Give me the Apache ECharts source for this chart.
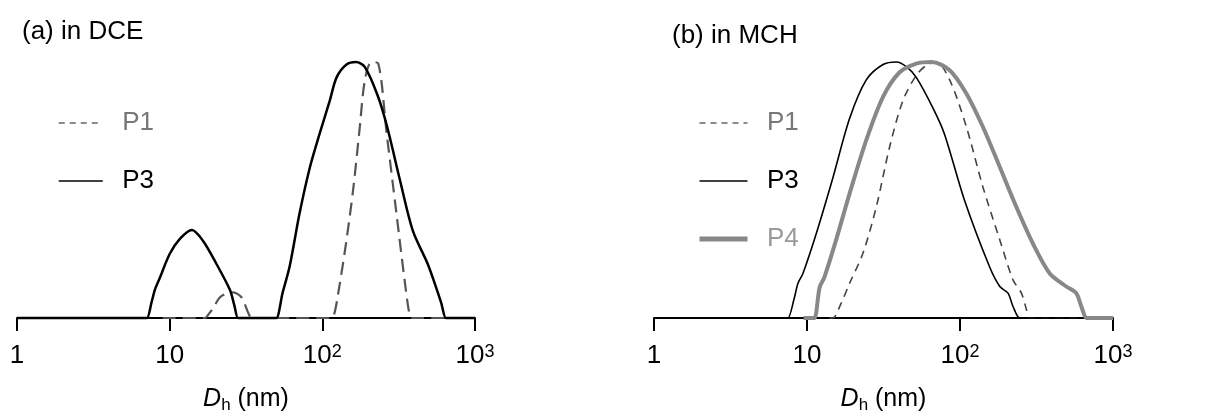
<!DOCTYPE html>
<html>
<head>
<meta charset="utf-8">
<title>DLS size distributions</title>
<script src="https://cdn.jsdelivr.net/npm/echarts@6/dist/echarts.min.js"></script>
<style>
  html, body { margin: 0; padding: 0; background: #ffffff; }
  #chart { width: 1232px; height: 414px; }
</style>
</head>
<body>
<div id="chart"></div>
<script>
// Hydrodynamic diameter D_h (nm) and normalised intensity (%) for each sample.

// (a) in DCE
const dceP1D = [9, 17, 18, 19.3, 21.3, 23.5, 26.1, 29.6, 32.7, 34.5, 36, 60, 110, 118, 127, 144, 160, 176, 190, 210, 232, 264, 307, 348, 375, 390, 1000];
const dceP1I = [0, 0, 1.5, 4, 8, 9.5, 10, 8, 2, 0, 0, 0, 0, 0.5, 9.6, 30.5, 51.3, 74.7, 93, 100, 99.5, 72, 40, 13.5, 0.5, 0, 0];

const dceP3D = [1, 6.8, 7.1, 7.6, 8.0, 8.6, 10, 11.7, 14, 16.6, 20.3, 24.8, 26.5, 28, 29, 48, 50, 55, 61, 71, 83, 96, 112, 124, 144, 166, 190, 230, 265, 322, 392, 491, 563, 600, 645, 670, 1000];
const dceP3I = [0, 0, 0, 6, 11, 15.5, 25, 31, 34.4, 30, 21, 11, 5, 0, 0, 0, 0, 10, 20, 41, 59, 72, 85, 94, 99, 100, 98, 87, 75, 54, 34, 21, 11, 6, 0, 0, 0];

// (b) in MCH
const mchP1D = [14, 14.8, 16.5, 19.0, 23.2, 28.4, 34.7, 42.4, 51.8, 60.3, 70, 85.6, 110, 141, 182, 222, 252, 272, 280, 290, 1000];
const mchP1I = [0, 0, 5, 13.6, 25.3, 43.5, 66.9, 85, 94.8, 98.7, 100, 93, 74.7, 51.3, 30.5, 14.9, 9.7, 3.2, 0, 0, 0];

const mchP3D = [1, 7.2, 7.5, 8.2, 8.73, 9.42, 11.5, 14.8, 19.0, 24.4, 31.4, 38.4, 45, 51.8, 66.6, 79, 107, 156, 182, 206, 222, 245, 255, 1000];
const mchP3I = [0, 0, 0, 7, 13.6, 17.5, 33, 55, 78, 93, 99, 100, 98, 94, 82, 72, 46, 20, 12.3, 9.7, 4.5, 0, 0, 0];

const mchP4D = [9.5, 10.8, 11.2, 12.1, 13.0, 15.5, 19.0, 24.4, 31.4, 40.3, 51.8, 65, 85.6, 110, 141, 182, 233, 300, 385, 495, 575, 621, 670, 700, 1000];
const mchP4I = [0, 0, 0, 12, 16, 30.5, 48.7, 69.5, 86.4, 96, 99.4, 100, 96.8, 87.7, 74.7, 59, 43.5, 29, 17.5, 12.3, 9.7, 4.5, 0, 0, 0];

// Decade tick labels on the D_h axis
const tickLabels = ['1', '10', '10{s|2}', '10{s|3}'];
const panelTitles = ['(a) in DCE', '(b) in MCH'];

const FONT = '"Liberation Sans", Arial, Helvetica, sans-serif';
const zip = (xs, ys) => xs.map((x, i) => [x, ys[i]]);

const chart = echarts.init(document.getElementById('chart'), null, { renderer: 'canvas' });

function xAxisFor(gridIndex) {
  return {
    type: 'log',
    logBase: 10,
    gridIndex: gridIndex,
    min: 1,
    max: 1000,
    splitLine: { show: false },
    minorTick: { show: false },
    axisLine: { show: true, onZero: false, lineStyle: { color: '#000', width: 2 } },
    axisTick: { show: true, inside: false, length: 13, lineStyle: { color: '#000', width: 2 } },
    axisLabel: {
      margin: 25,
      color: '#000',
      fontFamily: FONT,
      fontSize: 26,
      formatter: function (v) {
        const k = Math.round(Math.log10(v));
        return tickLabels[k] !== undefined ? tickLabels[k] : '';
      },
      rich: {
        s: { fontSize: 18, fontFamily: FONT, color: '#000', verticalAlign: 'top', lineHeight: 16 }
      }
    },
    name: '{i|D}{s|h} (nm)',
    nameLocation: 'middle',
    nameGap: 66,
    nameTextStyle: {
      color: '#000',
      fontFamily: FONT,
      fontSize: 25,
      rich: {
        i: { fontStyle: 'italic', fontSize: 25, fontFamily: FONT, color: '#000' },
        s: { fontSize: 17, fontFamily: FONT, color: '#000', verticalAlign: 'bottom', lineHeight: 30 }
      }
    }
  };
}

function yAxisFor(gridIndex) {
  return {
    type: 'value',
    gridIndex: gridIndex,
    min: 0,
    max: 100,
    show: false
  };
}

function lineSeries(name, data, idx, style) {
  return {
    name: name,
    type: 'line',
    xAxisIndex: idx,
    yAxisIndex: idx,
    data: data,
    smooth: 0.3,
    showSymbol: false,
    symbol: 'none',
    clip: false,
    animation: false,
    itemStyle: { color: style.color },
    lineStyle: style
  };
}

const styleP1a = { color: '#555', width: 2.2, type: [13, 7] };
const styleP3a = { color: '#000', width: 2.5, type: 'solid' };
const styleP1b = { color: '#444', width: 1.6, type: [8, 6] };
const styleP3b = { color: '#000', width: 1.6, type: 'solid' };
const styleP4b = { color: '#888', width: 4, type: 'solid' };

function legendFor(left, width, names) {
  const hidden = { color: 'rgba(0,0,0,0)', borderWidth: 0, opacity: 0 };
  const entries = {
    P1: { name: 'P1', itemStyle: hidden, lineStyle: { color: '#666', width: 1.5, type: [6, 5] }, textStyle: { color: '#777' } },
    P3: { name: 'P3', itemStyle: hidden, lineStyle: { color: '#000', width: 1.5, type: 'solid' }, textStyle: { color: '#000' } },
    P4: { name: 'P4', itemStyle: hidden, lineStyle: { color: '#888', width: 5, type: 'solid' }, textStyle: { color: '#999' } }
  };
  return {
    orient: 'vertical',
    left: left,
    top: 110,
    padding: 0,
    itemWidth: width,
    itemHeight: 14,
    itemGap: 32,
    selectedMode: false,
    formatter: function (n) { return '  ' + n; },
    textStyle: { fontFamily: FONT, fontSize: 26 },
    data: names.map(n => entries[n])
  };
}

chart.setOption({
  backgroundColor: '#ffffff',
  animation: false,
  title: [
    { text: panelTitles[0], left: 17, top: 14, textStyle: { fontFamily: FONT, fontSize: 26, fontWeight: 'normal', color: '#000' } },
    { text: panelTitles[1], left: 667, top: 18, textStyle: { fontFamily: FONT, fontSize: 26, fontWeight: 'normal', color: '#000' } }
  ],
  grid: [
    { left: 17, top: 62, width: 458, height: 256, outerBoundsMode: 'none' },
    { left: 654, top: 62, width: 459, height: 256, outerBoundsMode: 'none' }
  ],
  xAxis: [xAxisFor(0), xAxisFor(1)],
  yAxis: [yAxisFor(0), yAxisFor(1)],
  legend: [
    legendFor(58, 44, ['P1', 'P3']),
    legendFor(697, 48, ['P1', 'P3', 'P4'])
  ],
  series: [
    lineSeries('P1', zip(dceP1D, dceP1I), 0, styleP1a),
    lineSeries('P3', zip(dceP3D, dceP3I), 0, styleP3a),
    lineSeries('P1', zip(mchP1D, mchP1I), 1, styleP1b),
    lineSeries('P3', zip(mchP3D, mchP3I), 1, styleP3b),
    lineSeries('P4', zip(mchP4D, mchP4I), 1, styleP4b)
  ]
});
</script>
</body>
</html>
